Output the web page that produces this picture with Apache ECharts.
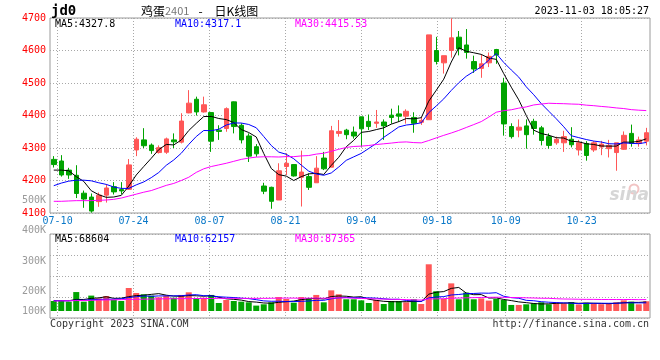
<!DOCTYPE html>
<html><head><meta charset="utf-8">
<script src="https://cdn.jsdelivr.net/npm/echarts@6/dist/echarts.min.js"></script>
<style>html,body{margin:0;padding:0;background:#fff}#c{width:660px;height:360px}</style>
</head><body><div id="c"></div>
<script>
// ---- data ----
const dates = ['07-07','07-10','07-11','07-12','07-13','07-14','07-17','07-18','07-19','07-20','07-21','07-24','07-25','07-26','07-27','07-28','07-31',
'08-01','08-02','08-03','08-04','08-07','08-08','08-09','08-10','08-11','08-14','08-15','08-16','08-17','08-18','08-21','08-22','08-23','08-24','08-25','08-28','08-29','08-30','08-31',
'09-01','09-04','09-05','09-06','09-07','09-08','09-11','09-12','09-13','09-14','09-15','09-18','09-19','09-20','09-21','09-22','09-25','09-26','09-27','09-28',
'10-09','10-10','10-11','10-12','10-13','10-16','10-17','10-18','10-19','10-20','10-23','10-24','10-25','10-26','10-27','10-30','10-31','11-01','11-02','11-03'];
const opens = [4265,4260,4232,4216,4161,4149,4135,4155,4181,4172, 4173,4294,4325,4309,4286,4287,4325,4318,4408,4450,
4411,4409,4355,4360,4442,4370,4337,4304,4183,4179, 4140,4243,4249,4210,4212,4193,4269,4241,4345,4355,
4349,4396,4382,4376,4380,4401,4405,4398,4394,4379, 4387,4600,4562,4600,4641,4617,4566,4545,4562,4603,
4500,4366,4355,4368,4382,4362,4335,4316,4316,4327, 4294,4314,4294,4303,4298,4286,4296,4345,4314,4321];
const closes = [4249,4217,4217,4160,4143,4106,4155,4177,4165,4168, 4248,4327,4307,4292,4301,4328,4319,4383,4438,4411,
4433,4321,4351,4421,4366,4325,4275,4282,4167,4136, 4230,4253,4214,4226,4179,4238,4236,4353,4351,4341,
4337,4359,4366,4380,4368,4394,4398,4413,4376,4385, 4648,4566,4584,4639,4605,4594,4543,4559,4582,4586,
4374,4335,4364,4341,4360,4323,4308,4327,4335,4310, 4316,4277,4316,4312,4308,4316,4339,4314,4325,4347];
const highs = [4275,4278,4239,4247,4169,4160,4163,4189,4195,4195, 4266,4333,4361,4314,4308,4332,4345,4407,4478,4458,
4458,4411,4370,4425,4443,4376,4345,4312,4193,4181, 4253,4284,4250,4292,4222,4275,4288,4368,4386,4359,
4366,4396,4403,4417,4388,4421,4431,4419,4410,4395, 4648,4642,4584,4699,4660,4666,4584,4588,4594,4605,
4516,4376,4388,4388,4390,4368,4345,4335,4353,4364, 4325,4321,4321,4322,4325,4316,4351,4372,4335,4362];
const lows = [4240,4212,4205,4146,4116,4101,4119,4132,4157,4158, 4171,4275,4300,4282,4283,4282,4300,4314,4407,4400,
4409,4288,4325,4350,4345,4314,4257,4273,4158,4113, 4140,4217,4212,4120,4171,4193,4232,4241,4335,4327,
4329,4304,4355,4362,4325,4375,4380,4375,4347,4371, 4387,4557,4529,4578,4585,4575,4531,4516,4549,4559,
4338,4329,4333,4298,4341,4308,4298,4310,4288,4302, 4277,4261,4288,4278,4271,4230,4294,4304,4304,4308];
const volumes = [76000,76000,71000,144000,71000,117000,96000,114000,84000,76000,
175000,137000,127000,117000,104000,117000,101000,122000,142000,96000,
101000,122000,61000,84000,76000,71000,66000,41000,51000,66000,
106000,91000,63000,106000,99000,122000,66000,157000,127000,89000,
89000,81000,61000,84000,53000,76000,76000,66000,89000,53000,
355000,150000,91000,210000,89000,140000,89000,96000,79000,91000,
84000,46000,46000,51000,58000,66000,51000,66000,58000,68000,
50000,62000,56000,52000,58000,66000,81000,71000,51000,74000];
// moving-average values at the left edge (their windows start before the first visible day)
const ma5Lead = [4232,4232,4230,4212];
const ma10Lead = [4184,4192,4198,4201,4201,4199,4193,4188,4180];
const ma30Lead = [4136,4136,4137,4138,4138,4138,4139,4140,4142,4146,4152,4158,4164,4169,4177,4185,4191,4200,4210,4225,4236,4243,4248,4253,4259,4265,4269,4272,4273];
const vma5Lead = [80000,79000,78000,88000];
const vma10Lead = [78000,78000,78000,82000,82000,86000,88000,90000,90000];
const vma30Lead = [76000,77000,78000,79000,80000,81000,83000,84000,85000,86000,88000,89000,90000,91000,92000,93000,93000,94000,94000,95000,95000,95000,96000,96000,96000,96000,96000,96000,96000];
const dateTicks = ['07-10','07-24','08-07','08-21','09-04','09-18','10-09','10-23'];
const priceMin = 4100, priceMax = 4700, priceStep = 100;
const volTickMin = 100000, volTickMax = 500000, volTickStep = 100000;
const priceLegend = ['MA5:4327.8','MA10:4317.1','MA30:4415.53'];
const volLegend = ['MA5:68604','MA10:62157','MA30:87365'];
const code = 'jd0', name = '鸡蛋', contract = '2401', chartKind = '日K线图';
const stamp = '2023-11-03 18:05:27';
const copyright = 'Copyright 2023 SINA.COM', site = 'http://finance.sina.com.cn';

// ---- helpers ----
function movingAvg(vals, n, lead) {
  return vals.map((v, i) => {
    if (i < n - 1) return lead[i];
    let s = 0; for (let k = i - n + 1; k <= i; k++) s += vals[k];
    return +(s / n).toFixed(2);
  });
}
const RED = '#ff5757', GREEN = '#00a400';
const candleData = dates.map((d, i) => [opens[i], closes[i], lows[i], highs[i]]);
const volData = volumes.map((v, i) => ({ value: v, itemStyle: { color: closes[i] >= opens[i] ? RED : GREEN } }));
const MONO = '"DejaVu Sans Mono", "Liberation Mono", monospace';
const dotted = { show: true, lineStyle: { color: '#a8a8a8', type: [1, 2], width: 1 } };
const tickSel = (idx) => dateTicks.indexOf(dates[idx]) >= 0;

// volume axis: bar baseline sits 7px above the panel bottom, 7.6K per pixel
const volPx = 7600, volPanelH = 84, volBasePx = 7;
const volMin = -volBasePx * volPx, volMax = (volPanelH - volBasePx) * volPx;

const chart = echarts.init(document.getElementById('c'), null, { renderer: 'canvas' });
const lineS = (name, data, color, xi, yi) => ({
  name, type: 'line', data, xAxisIndex: xi, yAxisIndex: yi, symbol: 'none', smooth: false,
  lineStyle: { color, width: 1 }, itemStyle: { color }, silent: true, z: 5
});
const txt = (x, y, text, fill, extra) => Object.assign({
  type: 'text', x, y, silent: true, z: 100,
  style: Object.assign({ text, fill, font: '10px ' + MONO, align: 'left', verticalAlign: 'middle', textAlign: 'left', textVerticalAlign: 'middle' }, extra || {})
});

chart.setOption({
  animation: false,
  backgroundColor: '#fff',
  grid: [
    { left: 50, top: 18, width: 600, height: 195, show: true, borderColor: '#9a9a9a', borderWidth: 1, backgroundColor: '#fff' },
    { left: 50, top: 234, width: 600, height: 84, show: true, borderColor: '#9a9a9a', borderWidth: 1, backgroundColor: '#fff' },
    { left: 50, top: 200, width: 600, height: 122, show: false }
  ],
  xAxis: [
    { type: 'category', gridIndex: 0, data: dates, boundaryGap: true, axisLine: { show: false }, axisTick: { show: false }, axisLabel: { show: false }, splitLine: { show: false } },
    { type: 'category', gridIndex: 1, data: dates, boundaryGap: true, axisLine: { show: false }, axisTick: { show: false }, axisLabel: { show: false }, splitLine: { show: false } },
    { type: 'category', gridIndex: 0, data: dates, boundaryGap: false, position: 'bottom', axisLine: { show: false }, axisTick: { show: false },
      axisLabel: { show: true, interval: tickSel, color: '#0a78c8', fontFamily: MONO, fontSize: 10, margin: 3 },
      splitLine: Object.assign({ interval: tickSel }, dotted) },
    { type: 'category', gridIndex: 1, data: dates, boundaryGap: false, axisLine: { show: false }, axisTick: { show: false }, axisLabel: { show: false },
      splitLine: Object.assign({ interval: tickSel }, dotted) },
    { type: 'category', gridIndex: 2, data: dates, show: false }
  ],
  yAxis: [
    { type: 'value', gridIndex: 0, min: priceMin, max: priceMax, interval: priceStep, axisLine: { show: false }, axisTick: { show: false },
      axisLabel: { color: '#ff0000', fontFamily: MONO, fontSize: 10, margin: 4, padding: [0, 0, 3, 0], showMinLabel: true, showMaxLabel: true,
        formatter: (v) => String(v) },
      splitLine: dotted },
    { type: 'value', gridIndex: 1, min: volMin, max: volMax, show: false, splitLine: { show: false } },
    { type: 'value', gridIndex: 1, min: 0, max: 4, interval: 1, axisLine: { show: false }, axisTick: { show: false }, axisLabel: { show: false }, splitLine: dotted },
    { type: 'value', gridIndex: 2, min: volTickMin, max: volTickMax, interval: volTickStep, axisLine: { show: false }, axisTick: { show: false }, splitLine: { show: false },
      axisLabel: { color: '#9a9a9a', fontFamily: MONO, fontSize: 10, margin: 4, showMinLabel: true, showMaxLabel: true,
        formatter: (v) => v === volTickMin ? '{lo|' + (v / 1000) + 'K}' : (v / 1000) + 'K',
        rich: { lo: { color: '#9a9a9a', fontFamily: MONO, fontSize: 10, padding: [0, 0, 22, 0] } } } }
  ],
  series: [
    { name: 'K', type: 'candlestick', data: candleData, xAxisIndex: 0, yAxisIndex: 0, barWidth: 5, silent: true, z: 3,
      itemStyle: { color: RED, color0: GREEN, borderColor: RED, borderColor0: GREEN, borderWidth: 1 } },
    lineS('MA5', movingAvg(closes, 5, ma5Lead), '#000000', 0, 0),
    lineS('MA10', movingAvg(closes, 10, ma10Lead), '#0000ff', 0, 0),
    lineS('MA30', movingAvg(closes, 30, ma30Lead), '#ff00ff', 0, 0),
    { name: 'VOL', type: 'bar', data: volData, xAxisIndex: 1, yAxisIndex: 1, barWidth: 6, silent: true, z: 3 },
    lineS('VMA5', movingAvg(volumes, 5, vma5Lead), '#000000', 1, 1),
    lineS('VMA10', movingAvg(volumes, 10, vma10Lead), '#0000ff', 1, 1),
    lineS('VMA30', movingAvg(volumes, 30, vma30Lead), '#ff00ff', 1, 1)
  ],
  graphic: [
    txt(51, 11, code, '#000', { font: 'bold 14px ' + MONO }),
    txt(141, 11, '{a|' + name + '}{b|' + contract + '}{c|-}{a|' + chartKind + '}', '#000', {
      rich: {
        a: { font: '12px "Noto Sans CJK SC"', fill: '#000', color: '#000' },
        b: { font: '11px "Noto Sans CJK SC"', fill: '#777', color: '#777' },
        c: { font: '12px "Noto Sans CJK SC"', fill: '#000', color: '#000', padding: [0, 12, 0, 9] }
      }
    }),
    txt(649, 11, stamp, '#000', { align: 'right', textAlign: 'right' }),
    txt(55, 24, priceLegend[0], '#000'),
    txt(175, 24, priceLegend[1], '#0000ff'),
    txt(295, 24, priceLegend[2], '#ff00ff'),
    txt(55, 239, volLegend[0], '#000'),
    txt(175, 239, volLegend[1], '#0000ff'),
    txt(295, 239, volLegend[2], '#ff00ff'),
    txt(50, 324, copyright, '#333'),
    txt(649, 324, site, '#333', { align: 'right', textAlign: 'right' }),
    { type: 'circle', shape: { cx: 634, cy: 189, r: 4.5 }, style: { fill: 'none', stroke: '#f2c4c4', lineWidth: 2 }, silent: true, z: 1 },
    txt(649, 204, 'sina', '#d6d6d6', { font: 'italic bold 17px "DejaVu Sans"', align: 'right', textAlign: 'right', verticalAlign: 'bottom', textVerticalAlign: 'bottom' })
  ]
});
</script>
</body></html>
